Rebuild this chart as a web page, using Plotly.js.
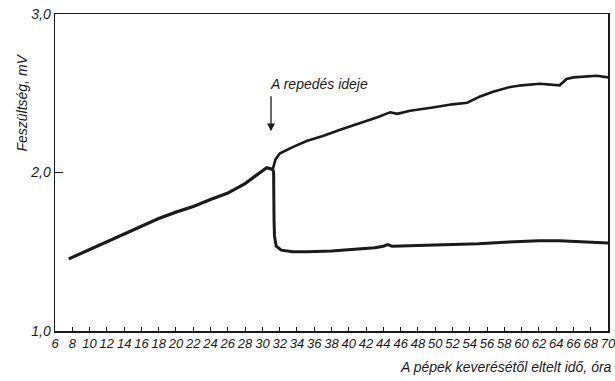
<!DOCTYPE html>
<html>
<head>
<meta charset="utf-8">
<script src="https://cdn.plot.ly/plotly-3.0.1.min.js"></script>
<style>
  html, body { margin: 0; padding: 0; background: #fff; }
  #chart { width: 615px; height: 381px; }
</style>
</head>
<body>
<div id="chart"></div>
<script>
// Voltage rise of the paste before the crack (hours, mV)
const riseX = [7.6, 9, 10, 12, 14, 16, 18, 20, 22, 24, 26, 28, 29.5, 30.5, 31.2];
const riseY = [1.455, 1.49, 1.51, 1.56, 1.61, 1.66, 1.71, 1.75, 1.785, 1.83, 1.87, 1.93, 1.99, 2.03, 2.02];

// Upper branch after the crack
const upperX = [31.2, 31.5, 32, 33.5, 35.2, 37, 39, 40.7, 43.4, 44.3, 44.8, 45.6, 47.1, 49.7, 52, 53.7, 55.2, 56.7, 58.7, 60, 62.1, 64.4, 65.2, 66, 68.7, 70];
const upperY = [2.02, 2.08, 2.12, 2.16, 2.2, 2.23, 2.27, 2.30, 2.35, 2.37, 2.38, 2.37, 2.39, 2.41, 2.43, 2.44, 2.48, 2.51, 2.54, 2.55, 2.56, 2.55, 2.59, 2.60, 2.61, 2.60];

// Lower branch after the crack
const lowerX = [31.2, 31.3, 31.35, 31.4, 31.6, 32.2, 33.5, 35.2, 38, 41, 43, 44, 44.5, 45, 48, 52, 55, 58, 60, 62, 64.4, 66, 68, 70];
const lowerY = [2.02, 2.0, 1.7, 1.6, 1.535, 1.51, 1.50, 1.50, 1.505, 1.515, 1.525, 1.535, 1.545, 1.535, 1.54, 1.545, 1.55, 1.56, 1.565, 1.57, 1.57, 1.565, 1.56, 1.555];

// Axis ticks
const xTicks = [6, 8, 10, 12, 14, 16, 18, 20, 22, 24, 26, 28, 30, 32, 34, 36, 38, 40, 42, 44, 46, 48, 50, 52, 54, 56, 58, 60, 62, 64, 66, 68, 70];
const yTicks = [1, 2, 3];
const yTickText = ['1,0', '2,0', '3,0'];

const FONT = 'Liberation Sans Narrow, Liberation Sans, Arial, sans-serif';
const ink = '#1a1a1a';

const lineTrace = (x, y, w) => ({
  x, y, type: 'scatter', mode: 'lines',
  line: { color: ink, width: w, shape: 'linear' },
  hoverinfo: 'skip', showlegend: false
});

const data = [
  lineTrace(riseX, riseY, 3.2),
  lineTrace(upperX, upperY, 2.6),
  lineTrace(lowerX, lowerY, 3)
];

const layout = {
  width: 615, height: 381,
  margin: { l: 55, r: 7, t: 14, b: 50 },
  paper_bgcolor: '#fff', plot_bgcolor: '#fff',
  font: { family: FONT, color: ink, style: 'italic' },
  xaxis: {
    range: [6, 70],
    tickvals: xTicks,
    ticktext: xTicks.map(String),
    tickangle: 0,
    ticklabeloverflow: 'allow',
    ticks: 'inside', ticklen: 4, tickwidth: 1, tickcolor: ink,
    showline: true, linecolor: ink, linewidth: 1.5, mirror: true,
    showgrid: false, zeroline: false,
    tickfont: { family: FONT, size: 13, color: ink, style: 'italic' }
  },
  yaxis: {
    range: [1, 3],
    tickvals: yTicks,
    ticktext: yTickText,
    ticks: 'inside', ticklen: 8, tickwidth: 1, tickcolor: ink,
    showline: true, linecolor: ink, linewidth: 1.5, mirror: true,
    showgrid: false, zeroline: false,
    tickfont: { family: FONT, size: 14, color: ink, style: 'italic' }
  },
  annotations: [
    {
      text: 'Feszültség, mV', textangle: -90,
      xref: 'paper', yref: 'paper', x: -0.06, y: 0.72,
      xanchor: 'center', yanchor: 'middle', showarrow: false,
      font: { family: FONT, size: 14, color: ink, style: 'italic' }
    },
    {
      text: 'A pépek keverésétől eltelt idő, óra',
      xref: 'paper', yref: 'paper', x: 0.815, y: -0.115,
      xanchor: 'center', yanchor: 'middle', showarrow: false,
      font: { family: FONT, size: 14, color: ink, style: 'italic' }
    },
    {
      text: 'A repedés ideje',
      xref: 'x', yref: 'y', x: 30.6, y: 2.56,
      xanchor: 'left', yanchor: 'middle', showarrow: false,
      font: { family: FONT, size: 14, color: ink, style: 'italic' }
    },
    {
      xref: 'x', yref: 'y', x: 31, y: 2.26,
      ax: 31, ay: 2.49, axref: 'x', ayref: 'y',
      text: '', showarrow: true,
      arrowhead: 2, arrowsize: 1.2, arrowwidth: 1.3, arrowcolor: ink
    }
  ]
};

Plotly.newPlot('chart', data, layout, { displayModeBar: false, staticPlot: true });
</script>
</body>
</html>
